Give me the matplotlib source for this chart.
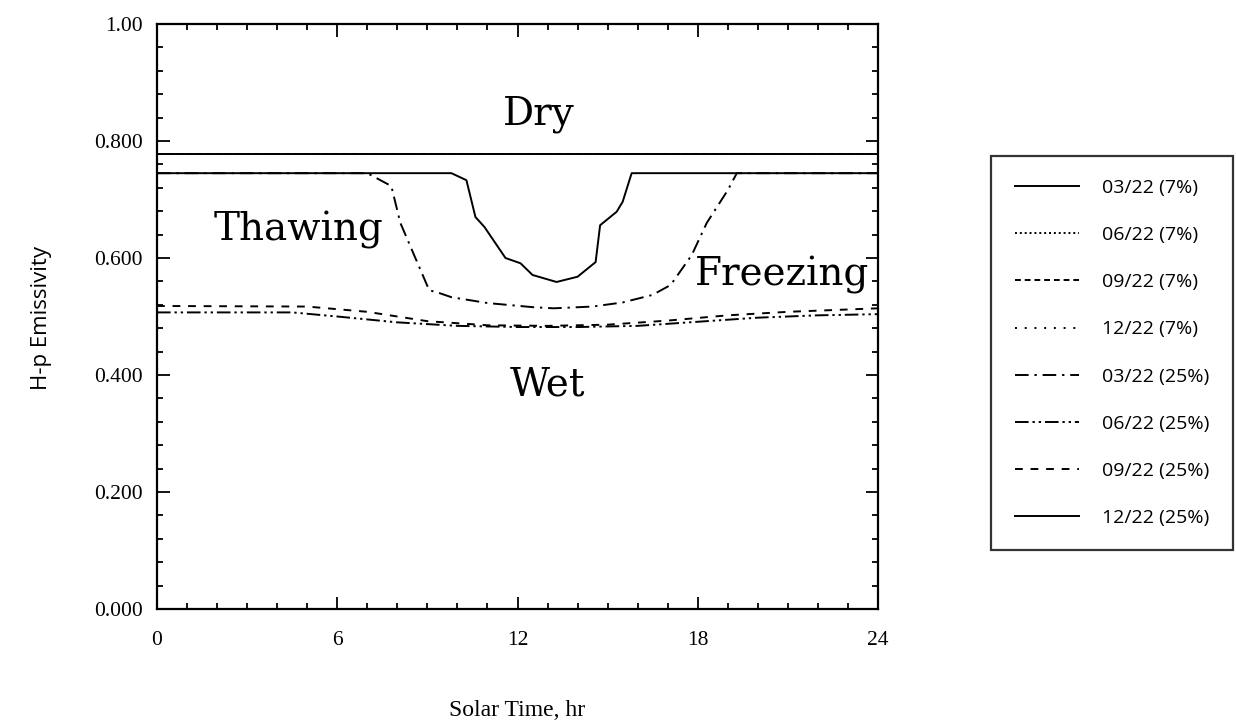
import matplotlib
matplotlib.use("Agg")
import matplotlib.pyplot as plt
from matplotlib.ticker import MultipleLocator, FixedLocator

# ---- data ----
labels = ["03/22 (7%)", "06/22 (7%)", "09/22 (7%)", "12/22 (7%)",
          "03/22 (25%)", "06/22 (25%)", "09/22 (25%)", "12/22 (25%)"]

hours_dry = [0, 24]
emis_0322_7 = [0.778, 0.778]
emis_0622_7 = [0.778, 0.778]
emis_0922_7 = [0.778, 0.778]
emis_1222_7 = [0.778, 0.778]

hours_0322_25 = [0, 7.0, 7.8, 8.1, 8.6, 9.06, 9.4, 9.8, 11.0, 12.5, 13.2, 14.5,
                 15.5, 16.5, 17.1, 17.8, 18.3, 19.0, 19.3, 24]
emis_0322_25 = [0.745, 0.745, 0.723, 0.660, 0.600, 0.545, 0.540, 0.533, 0.523,
                0.516, 0.514, 0.517, 0.524, 0.537, 0.554, 0.605, 0.660, 0.716,
                0.745, 0.745]

hours_0622_25 = [0, 4.5, 6, 8, 10, 12, 14, 16, 18, 20, 22, 24]
emis_0622_25 = [0.507, 0.507, 0.500, 0.490, 0.484, 0.482, 0.482, 0.484, 0.491,
                0.498, 0.502, 0.504]

hours_0922_25 = [0, 5, 7, 9, 11, 13, 15, 17, 19, 21, 24]
emis_0922_25 = [0.518, 0.517, 0.508, 0.492, 0.485, 0.484, 0.486, 0.493, 0.502,
                0.508, 0.514]

hours_1222_25 = [0, 9.8, 10.3, 10.6, 10.9, 11.6, 12.1, 12.5, 13.3, 14.0, 14.6,
                 14.75, 15.3, 15.5, 15.8, 24]
emis_1222_25 = [0.745, 0.745, 0.733, 0.670, 0.653, 0.600, 0.591, 0.571, 0.559,
                0.568, 0.593, 0.656, 0.679, 0.696, 0.745, 0.745]

xticks = [0, 6, 12, 18, 24]
yticks = [0.0, 0.2, 0.4, 0.6, 0.8, 1.0]
yticklabels = ["0.000", "0.200", "0.400", "0.600", "0.800", "1.00"]

region_text = ["Dry", "Thawing", "Freezing", "Wet"]
region_x = [12.7, 4.7, 20.8, 13.0]
region_y = [0.845, 0.648, 0.571, 0.383]

# ---- figure ----
W, H = 1236, 724
fig = plt.figure(figsize=(W / 100, H / 100), dpi=100)
left, right, top, bottom = 157, 878, 24, 609
ax = fig.add_axes([left / W, 1 - bottom / H, (right - left) / W, (bottom - top) / H])

lw = 1.4
series = [
    (hours_dry, emis_0322_7, "-"),
    (hours_dry, emis_0622_7, (0, (1, 1.5))),
    (hours_dry, emis_0922_7, (0, (3, 2))),
    (hours_dry, emis_1222_7, (0, (1, 4))),
    (hours_0322_25, emis_0322_25, (0, (7, 3, 1.2, 3))),
    (hours_0622_25, emis_0622_25, (0, (7, 2, 1.2, 2, 1.2, 2))),
    (hours_0922_25, emis_0922_25, (0, (4, 4))),
    (hours_1222_25, emis_1222_25, "-"),
]
handles = []
for (xs, ys, ls), lab in zip(series, labels):
    h, = ax.plot(xs, ys, color="black", linestyle=ls, linewidth=lw, label=lab)
    handles.append(h)

ax.set_xlim(0, 24)
ax.set_ylim(0, 1.0)
ax.xaxis.set_major_locator(FixedLocator(xticks))
ax.xaxis.set_minor_locator(MultipleLocator(1))
ax.yaxis.set_major_locator(FixedLocator(yticks))
ax.yaxis.set_minor_locator(MultipleLocator(0.04))
ax.set_yticklabels(yticklabels)
ax.set_xticklabels([str(t) for t in xticks])

for s in ax.spines.values():
    s.set_linewidth(1.6)
ax.tick_params(which="both", direction="in", top=True, right=True, width=1.3)
ax.tick_params(which="major", length=9, pad=10)
ax.tick_params(which="minor", length=4)
for t in ax.get_xticklabels() + ax.get_yticklabels():
    t.set_fontfamily("Liberation Serif")
    t.set_fontsize(15.5)
ax.tick_params(axis="x", pad=16)

for txt, x, y in zip(region_text, region_x, region_y):
    ax.text(x, y, txt, ha="center", va="center", fontsize=28,
            family="DejaVu Serif")

fig.text((left + right) / 2 / W, 1 - 710 / H, "Solar Time, hr",
         ha="center", va="center", fontsize=17, family="Liberation Serif")
fig.text(42 / W, 1 - 318 / H, "H-p Emissivity", rotation=90,
         ha="center", va="center", fontsize=16, family="Open Sans")

leg = fig.legend(handles=handles, labels=labels, loc="center",
                 bbox_to_anchor=(1112 / W, 1 - 353 / H),
                 prop={"family": "Open Sans", "size": 14},
                 handlelength=3.3, labelspacing=1.5, handletextpad=1.2,
                 borderpad=1.2, frameon=True, fancybox=False)
leg.get_frame().set_edgecolor("black")
leg.get_frame().set_linewidth(1.6)

fig.savefig("out.png", dpi=100)
